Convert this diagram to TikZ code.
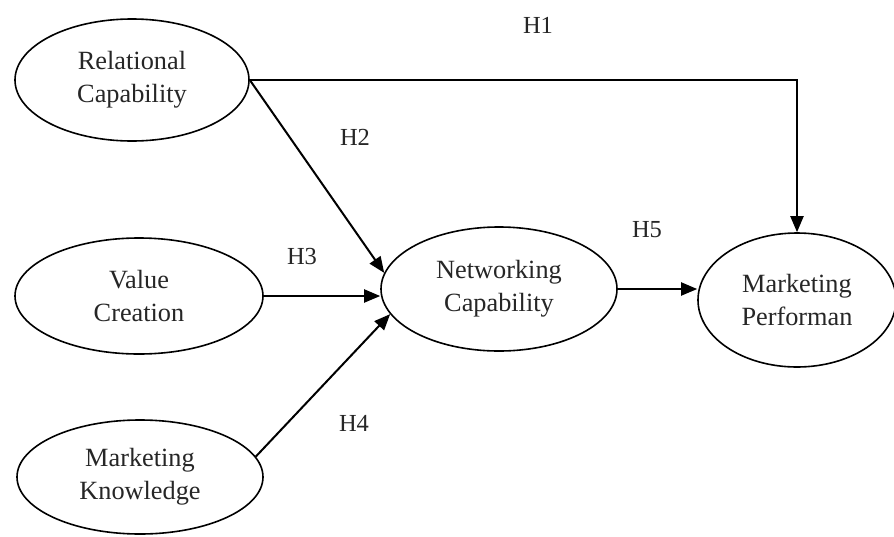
\documentclass[tikz,border=0pt]{standalone}
\usepackage{fontspec}
\setmainfont{Liberation Serif}
\usetikzlibrary{arrows.meta,shapes.geometric}
\begin{document}
\begin{tikzpicture}[x=1pt,y=-1pt,
  construct/.style={draw=black,line width=1.6pt,ellipse,inner sep=0pt,align=center,
    font=\fontsize{26.3}{33}\selectfont,text=black!85},
  link/.style={line width=2pt,-{Triangle[length=16pt,width=13pt]}},
  hyp/.style={font=\fontsize{24.5}{28}\selectfont,text=black!85}]
\useasboundingbox (0,0) rectangle (894,536);
\fill[white] (0,0) rectangle (894,536);
\node[construct,minimum width=234pt,minimum height=122pt] (RC) at (132,80) {Relational\\Capability};
\node[construct,minimum width=248pt,minimum height=116pt] (VC) at (139,296) {Value\\Creation};
\node[construct,minimum width=246pt,minimum height=114pt] (MK) at (140,477) {Marketing\\Knowledge};
\node[construct,minimum width=236pt,minimum height=124pt] (NC) at (499,289) {Networking\\Capability};
\node[construct,minimum width=198pt,minimum height=134pt] (MP) at (797,300) {Marketing\\Performan};
\coordinate (bend) at (MP.north |- RC.east);
\draw[link] (RC.east) -- (bend) -- (MP.north);
\draw[link] (RC.east) -- (NC.172);
\draw[link] (VC.east) -- (VC.east -| NC.west);
\draw[link] (MK.10) -- (NC.193);
\draw[link] (NC.east) -- (NC.east -| MP.west);
\node[hyp] (h1) at (538,25) {H1};
\node[hyp] (h2) at (355,137) {H2};
\node[hyp] (h3) at (302,257) {H3};
\node[hyp] (h4) at (354,423) {H4};
\node[hyp] (h5) at (647,230) {H5};
\end{tikzpicture}
\end{document}
